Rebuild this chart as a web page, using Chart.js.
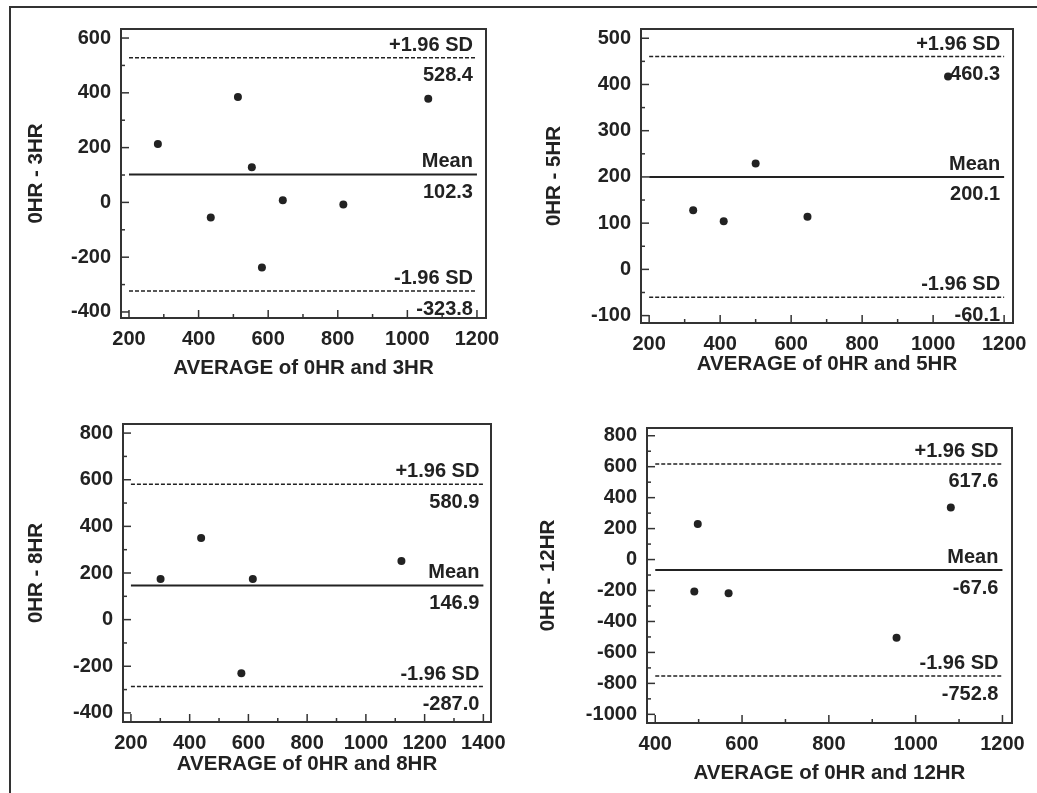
<!DOCTYPE html>
<html>
<head>
<meta charset="utf-8">
<script src="https://cdn.jsdelivr.net/npm/chart.js@4"></script>
<style>
  html, body { margin: 0; padding: 0; background: #fff; }
  body { width: 1037px; height: 793px; position: relative; overflow: hidden; }
  canvas { position: absolute; }
  #edgeTop { position: absolute; left: 9px; top: 6px; width: 1028px; height: 2px; background: #333; }
  #edgeLeft { position: absolute; left: 9px; top: 6px; width: 2px; height: 787px; background: #333; }
</style>
</head>
<body>
<div id="edgeTop"></div>
<div id="edgeLeft"></div>
<canvas id="p3" width="518" height="397" style="left:0;top:0"></canvas>
<canvas id="p5" width="519" height="397" style="left:518px;top:0"></canvas>
<canvas id="p8" width="518" height="396" style="left:0;top:397px"></canvas>
<canvas id="p12" width="519" height="396" style="left:518px;top:397px"></canvas>
<script>
// values
const lineNames = ['+1.96 SD', 'Mean', '-1.96 SD'];

const avg3 = [283, 513, 553, 435, 642, 582, 816, 1060];
const diff3 = [213, 385, 128, -55, 8, -238, -8, 378];
const lines3 = [528.4, 102.3, -323.8];
const xTicks3 = [200, 400, 600, 800, 1000, 1200];
const yTicks3 = [-400, -200, 0, 200, 400, 600];

const avg5 = [324, 410, 500, 646, 1042];
const diff5 = [128, 104, 229, 114, 417];
const lines5 = [460.3, 200.1, -60.1];
const xTicks5 = [200, 400, 600, 800, 1000, 1200];
const yTicks5 = [-100, 0, 100, 200, 300, 400, 500];

const avg8 = [301, 439, 615, 576, 1121];
const diff8 = [174, 350, 174, -230, 251];
const lines8 = [580.9, 146.9, -287.0];
const xTicks8 = [200, 400, 600, 800, 1000, 1200, 1400];
const yTicks8 = [-400, -200, 0, 200, 400, 600, 800];

const avg12 = [498, 490, 569, 956, 1081];
const diff12 = [230, -207, -218, -505, 337];
const lines12 = [617.6, -67.6, -752.8];
const xTicks12 = [400, 600, 800, 1000, 1200];
const yTicks12 = [-1000, -800, -600, -400, -200, 0, 200, 400, 600, 800];

const ink = '#222';
const family = '"Liberation Sans", Arial, sans-serif';

const framePlugin = {
    id: 'frame',
    afterDatasetsDraw(chart) {
        const { ctx, chartArea: a, scales: { x, y } } = chart;
        const o = chart.options.plugins.frame;
        ctx.save();
        ctx.strokeStyle = '#333';
        ctx.lineWidth = 2;
        ctx.strokeRect(a.left, a.top, a.right - a.left, a.bottom - a.top);

        // inward ticks, major on the labels, minor halfway between
        ctx.lineWidth = 1.5;
        const seg = (x1, y1, x2, y2) => { ctx.beginPath(); ctx.moveTo(x1, y1); ctx.lineTo(x2, y2); ctx.stroke(); };
        o.xTicks.forEach((v, i) => {
            const px = x.getPixelForValue(v);
            seg(px, a.bottom, px, a.bottom - 8);
            if (i > 0) {
                const mx = x.getPixelForValue((v + o.xTicks[i - 1]) / 2);
                seg(mx, a.bottom, mx, a.bottom - 4);
            }
        });
        o.yTicks.forEach((v, i) => {
            const py = y.getPixelForValue(v);
            seg(a.left, py, a.left + 8, py);
            if (i > 0) {
                const my = y.getPixelForValue((v + o.yTicks[i - 1]) / 2);
                seg(a.left, my, a.left + 4, my);
            }
        });

        ctx.fillStyle = ink;
        ctx.font = 'bold 20px ' + family;
        ctx.textAlign = 'right';
        const xr = x.getPixelForValue(o.xTicks[o.xTicks.length - 1]) - 4;
        lineNames.forEach((name, i) => {
            const py = y.getPixelForValue(o.lines[i]);
            ctx.textBaseline = 'alphabetic';
            ctx.fillText(name, xr, py - 7);
            ctx.textBaseline = 'top';
            ctx.fillText(o.lines[i].toFixed(1), xr, py + 8);
        });
        ctx.restore();
    }
};

function makePanel(id, o) {
    const first = o.xTicks[0], last = o.xTicks[o.xTicks.length - 1];
    const refLines = o.lines.map((v, i) => ({
        type: 'line',
        data: [{ x: first, y: v }, { x: last, y: v }],
        borderColor: ink,
        borderWidth: i === 1 ? 2 : 1.5,
        borderDash: i === 1 ? [] : [4, 2],
        pointRadius: 0
    }));
    const tickFont = { family, size: 20, weight: 'bold' };
    const titleFont = { family, size: 20.5, weight: 'bold' };

    new Chart(document.getElementById(id), {
        type: 'scatter',
        data: {
            datasets: [{
                data: o.avg.map((v, i) => ({ x: v, y: o.diff[i] })),
                pointRadius: 4,
                backgroundColor: ink,
                borderWidth: 0
            }, ...refLines]
        },
        options: {
            responsive: false,
            animation: false,
            devicePixelRatio: 1,
            layout: { padding: { top: o.pad[0], right: o.pad[1], left: 0, bottom: 0 } },
            plugins: {
                legend: { display: false },
                tooltip: { enabled: false },
                frame: o
            },
            scales: {
                x: {
                    type: 'linear',
                    min: o.xRange[0], max: o.xRange[1],
                    afterBuildTicks: s => { s.ticks = o.xTicks.map(value => ({ value })); },
                    afterFit: s => { s.height = o.xH; },
                    grid: { display: false },
                    border: { display: false },
                    ticks: { color: ink, font: tickFont, padding: 1, autoSkip: false, maxRotation: 0, callback: v => String(v) },
                    title: { display: true, text: o.xTitle, color: ink, font: titleFont, padding: { top: 0, bottom: o.xTitlePad } }
                },
                y: {
                    type: 'linear',
                    min: o.yRange[0], max: o.yRange[1],
                    afterBuildTicks: s => { s.ticks = o.yTicks.map(value => ({ value })); },
                    afterFit: s => { s.width = o.yW; },
                    grid: { display: false },
                    border: { display: false },
                    ticks: { color: ink, font: tickFont, padding: 2, autoSkip: false, callback: v => String(v) },
                    title: { display: true, text: o.yTitle, color: ink, font: titleFont, padding: { top: o.yTitlePad, bottom: 0 } }
                }
            }
        },
        plugins: [framePlugin]
    });
}

makePanel('p3', {
    avg: avg3, diff: diff3, lines: lines3, xTicks: xTicks3, yTicks: yTicks3,
    xRange: [177, 1226], yRange: [-422, 633],
    xTitle: 'AVERAGE of 0HR and 3HR', yTitle: '0HR - 3HR',
    pad: [29, 32], xH: 79, yW: 121, xTitlePad: 16, yTitlePad: 24
});
makePanel('p5', {
    avg: avg5, diff: diff5, lines: lines5, xTicks: xTicks5, yTicks: yTicks5,
    xRange: [177, 1225], yRange: [-116, 520],
    xTitle: 'AVERAGE of 0HR and 5HR', yTitle: '0HR - 5HR',
    pad: [29, 24], xH: 74, yW: 123, xTitlePad: 20, yTitlePad: 24
});
makePanel('p8', {
    avg: avg8, diff: diff8, lines: lines8, xTicks: xTicks8, yTicks: yTicks8,
    xRange: [173, 1426], yRange: [-439, 839],
    xTitle: 'AVERAGE of 0HR and 8HR', yTitle: '0HR - 8HR',
    pad: [27, 27], xH: 71, yW: 123, xTitlePad: 16, yTitlePad: 24
});
makePanel('p12', {
    avg: avg12, diff: diff12, lines: lines12, xTicks: xTicks12, yTicks: yTicks12,
    xRange: [381, 1222], yRange: [-1056, 850],
    xTitle: 'AVERAGE of 0HR and 12HR', yTitle: '0HR - 12HR',
    pad: [31, 25], xH: 70, yW: 129, xTitlePad: 7, yTitlePad: 18
});
</script>
</body>
</html>
